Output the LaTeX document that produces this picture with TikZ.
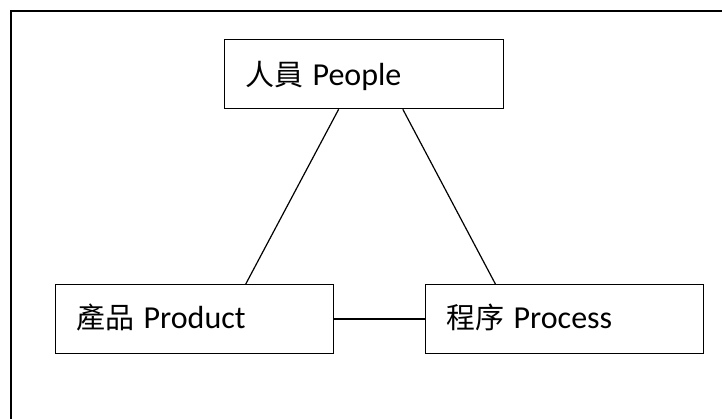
\documentclass[tikz,border=0pt]{standalone}
\usepackage{fontspec}
\setmainfont{Carlito}
\newfontfamily\cjk{Noto Sans CJK TC}
\usetikzlibrary{calc}
\newcommand{\cj}[1]{{\cjk\fontsize{29}{34}\selectfont #1}}
\begin{document}
\begin{tikzpicture}[x=1pt,y=-1pt,
  box/.style={draw, line width=1.3pt, rectangle, inner xsep=21pt, inner ysep=0pt,
    align=left, anchor=north west, font=\fontsize{32}{38}\selectfont},
  link/.style={line width=1.2pt}]
\useasboundingbox (0,0) rectangle (722,419);
% outer frame
\draw[line width=1.3pt] (11,419) -- (11,11) -- (722,11);
% boxes
\node[box, minimum width=279pt, minimum height=69pt, text width=237pt,
  text height=26pt, text depth=3pt] (people) at (224,39) {\cj{人員}\hspace{9pt}People};
\node[box, minimum width=278pt, minimum height=68.5pt, text width=236pt,
  text height=24pt, text depth=4pt] (product) at (55,284) {\cj{產品}\hspace{9pt}Product};
\node[box, minimum width=278pt, minimum height=68.5pt, text width=236pt,
  text height=24pt, text depth=4pt] (process) at (425,284) {\cj{程序}\hspace{9pt}Process};
% connectors
\draw[link] ($(people.south west)!0.409!(people.south east)$) -- ($(product.north west)!0.683!(product.north east)$);
\draw[link] ($(people.south west)!0.638!(people.south east)$) -- ($(process.north west)!0.252!(process.north east)$);
\draw[link] (product.east) -- (process.west);
\end{tikzpicture}
\end{document}
